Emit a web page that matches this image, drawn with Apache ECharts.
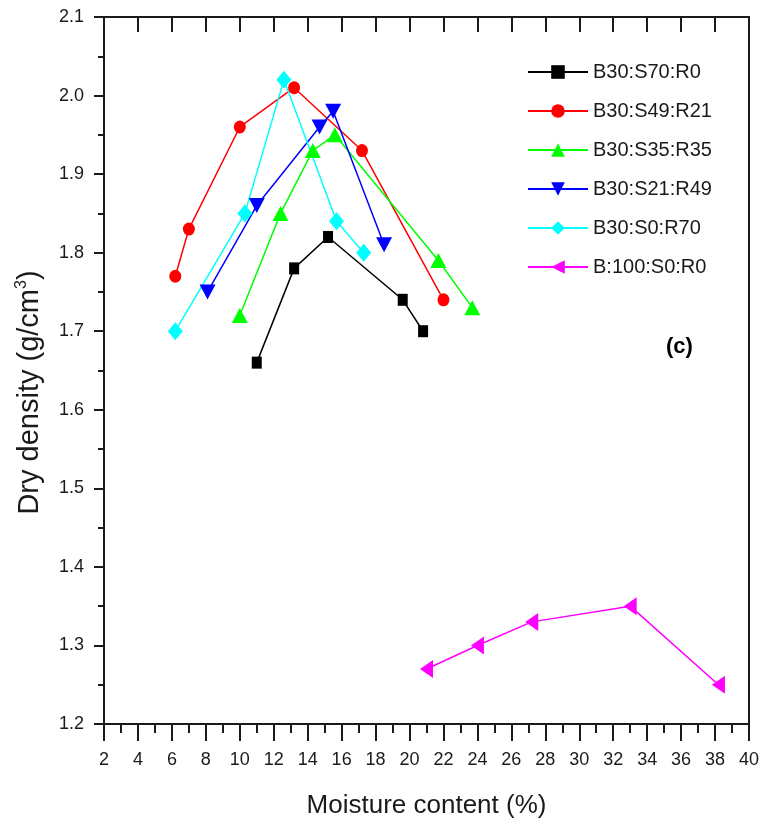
<!DOCTYPE html>
<html>
<head>
<meta charset="utf-8">
<script src="https://cdn.jsdelivr.net/npm/echarts@6/dist/echarts.min.js"></script>
<style>
  html, body { margin: 0; padding: 0; background: #fff; }
  #chart { width: 762px; height: 834px; }
</style>
</head>
<body>
<div id="chart"></div>
<script>
// Compaction curves: moisture content (%) vs dry density (g/cm3)
const seriesNames = ['B30:S70:R0', 'B30:S49:R21', 'B30:S35:R35', 'B30:S21:R49', 'B30:S0:R70', 'B:100:S0:R0'];

const moistureS70R0  = [11.0, 13.2, 15.2, 19.6, 20.8];
const densityS70R0   = [1.66, 1.78, 1.82, 1.74, 1.70];

const moistureS49R21 = [6.2, 7.0, 10.0, 13.2, 17.2, 22.0];
const densityS49R21  = [1.77, 1.83, 1.96, 2.01, 1.93, 1.74];

const moistureS35R35 = [10.0, 12.4, 14.3, 15.6, 21.7, 23.7];
const densityS35R35  = [1.72, 1.85, 1.93, 1.95, 1.79, 1.73];

const moistureS21R49 = [8.1, 11.0, 14.7, 15.5, 18.5];
const densityS21R49  = [1.75, 1.86, 1.96, 1.98, 1.81];

const moistureS0R70  = [6.2, 10.3, 12.6, 15.7, 17.3];
const densityS0R70   = [1.70, 1.85, 2.02, 1.84, 1.80];

const moistureB100   = [21.0, 24.0, 27.2, 33.0, 38.2];
const densityB100    = [1.27, 1.30, 1.33, 1.35, 1.25];

const xTicks = { min: 2, max: 40, step: 2 };
const yTicks = { min: 1.2, max: 2.1, step: 0.1 };

const pair = (xs, ys) => xs.map((x, i) => [x, ys[i]]);

const styles = [
  { color: '#000000', symbol: 'rect',     size: [10, 12], rotate: 0 },
  { color: '#ff0000', symbol: 'circle',   size: [12, 13], rotate: 0 },
  { color: '#00ff00', symbol: 'triangle', size: [16, 15], rotate: 0 },
  { color: '#0000ff', symbol: 'triangle', size: [16, 15], rotate: 180 },
  { color: '#00ffff', symbol: 'diamond',  size: [15, 18], rotate: 0 },
  { color: '#ff00ff', symbol: 'triangle', size: [18, 13], rotate: 90 }
];

const dataSets = [
  pair(moistureS70R0, densityS70R0),
  pair(moistureS49R21, densityS49R21),
  pair(moistureS35R35, densityS35R35),
  pair(moistureS21R49, densityS21R49),
  pair(moistureS0R70, densityS0R70),
  pair(moistureB100, densityB100)
];

const font = '"Liberation Sans", Arial, sans-serif';
const ink = '#1a1a1a';

const chart = echarts.init(document.getElementById('chart'), null, { renderer: 'canvas' });

chart.setOption({
  animation: false,
  backgroundColor: '#ffffff',
  textStyle: { fontFamily: font },
  grid: { left: 104, right: 11, top: 17, bottom: 110, containLabel: false },
  legend: {
    orient: 'vertical',
    left: 527,
    top: 62,
    padding: 0,
    itemWidth: 60,
    itemHeight: 17,
    itemGap: 19,
    textStyle: { fontFamily: font, fontSize: 20, color: ink },
    data: seriesNames
  },
  xAxis: [
    {
      type: 'value',
      position: 'bottom',
      min: xTicks.min, max: xTicks.max, interval: xTicks.step,
      name: 'Moisture content (%)',
      nameLocation: 'middle',
      nameGap: 69,
      nameTextStyle: { fontFamily: font, fontSize: 26, color: ink },
      axisLine: { show: true, onZero: false, lineStyle: { color: ink, width: 2 } },
      axisTick: { show: true, inside: false, length: 17, lineStyle: { color: ink, width: 2 } },
      minorTick: { show: true, splitNumber: 2, length: 9, lineStyle: { color: ink, width: 2 } },
      axisLabel: { fontFamily: font, fontSize: 18, color: ink, margin: 27 },
      splitLine: { show: false }
    },
    {
      type: 'value',
      position: 'top',
      min: xTicks.min, max: xTicks.max, interval: xTicks.step,
      axisLine: { show: true, onZero: false, lineStyle: { color: ink, width: 2 } },
      axisTick: { show: true, inside: true, length: 15, lineStyle: { color: ink, width: 2 } },
      axisLabel: { show: false },
      splitLine: { show: false }
    }
  ],
  yAxis: [
    {
      type: 'value',
      position: 'left',
      min: yTicks.min, max: yTicks.max, interval: yTicks.step,
      name: 'Dry density (g/cm{sup|3})',
      nameLocation: 'middle',
      nameGap: 58,
      nameTextStyle: {
        fontFamily: font, fontSize: 29, color: ink,
        padding: [0, 44, 0, 0],
        rich: {
          sup: { fontFamily: font, fontSize: 16, color: ink, verticalAlign: 'bottom', padding: [0, 0, 16, 0] }
        }
      },
      axisLine: { show: true, onZero: false, lineStyle: { color: ink, width: 2 } },
      axisTick: { show: true, inside: false, length: 10, lineStyle: { color: ink, width: 2 } },
      minorTick: { show: true, splitNumber: 2, length: 6, lineStyle: { color: ink, width: 2 } },
      axisLabel: {
        fontFamily: font, fontSize: 18, color: ink, margin: 20,
        formatter: v => v.toFixed(1)
      },
      splitLine: { show: false }
    },
    {
      type: 'value',
      position: 'right',
      min: yTicks.min, max: yTicks.max, interval: yTicks.step,
      axisLine: { show: true, onZero: false, lineStyle: { color: ink, width: 2 } },
      axisTick: { show: false },
      axisLabel: { show: false },
      splitLine: { show: false }
    }
  ],
  graphic: [
    {
      type: 'text',
      left: 666,
      top: 336,
      style: { text: '(c)', font: 'bold 22px ' + font, fill: '#000' }
    }
  ],
  series: dataSets.map((data, i) => ({
    name: seriesNames[i],
    type: 'line',
    xAxisIndex: 0,
    yAxisIndex: 0,
    data: data,
    symbol: styles[i].symbol,
    symbolSize: styles[i].size,
    symbolRotate: styles[i].rotate,
    showAllSymbol: true,
    lineStyle: { color: styles[i].color, width: 1.5 },
    itemStyle: { color: styles[i].color, borderWidth: 0 },
    emphasis: { disabled: true }
  }))
});
</script>
</body>
</html>
